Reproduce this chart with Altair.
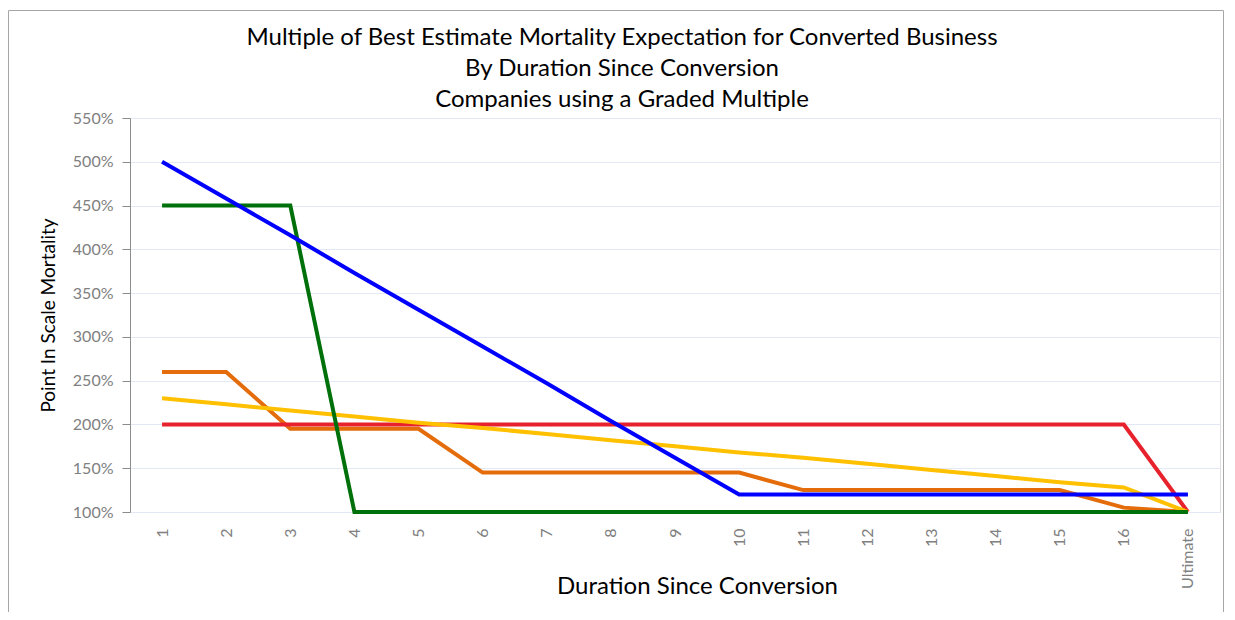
import altair as alt
import pandas as pd

durations = ["1", "2", "3", "4", "5", "6", "7", "8", "9", "10", "11", "12", "13", "14", "15", "16", "Ultimate"]

orange_vals = [260, 260, 195, 195, 195, 145, 145, 145, 145, 145, 125, 125, 125, 125, 125, 105, 100]
red_vals = [200, 200, 200, 200, 200, 200, 200, 200, 200, 200, 200, 200, 200, 200, 200, 200, 100]
yellow_vals = [230, 223, 216, 209, 202, 196, 189, 182, 175, 168, 162, 155, 148, 141, 134, 128, 100]
green_vals = [450, 450, 450, 100, 100, 100, 100, 100, 100, 100, 100, 100, 100, 100, 100, 100, 100]
blue_vals = [500, 458, 416, 373, 331, 289, 247, 204, 162, 120, 120, 120, 120, 120, 120, 120, 120]

series_names = ["Company A", "Company B", "Company C", "Company D", "Company E"]
series_vals = [orange_vals, red_vals, yellow_vals, green_vals, blue_vals]
series_colors = ["#E46C0A", "#E8222C", "#FFC000", "#00700A", "#0000FF"]

y_ticks = [100, 150, 200, 250, 300, 350, 400, 450, 500, 550]

title_lines = [
    "Multiple of Best Estimate Mortality Expectation for Converted Business",
    "By Duration Since Conversion",
    "Companies using a Graded Multiple",
]

FONT = "Lato"

x_enc = alt.X(
    "duration:N",
    sort=durations,
    scale=alt.Scale(type="point", padding=0.5),
    axis=alt.Axis(
        title="Duration Since Conversion",
        titleFont=FONT,
        titleFontSize=24,
        titleFontWeight="normal",
        titleColor="#000000",
        titleX=567,
        titleY=62,
        labelAngle=270,
        labelFont=FONT,
        labelFontSize=16,
        labelColor="#808080",
        labelPadding=16,
        domain=False,
        ticks=False,
        grid=False,
    ),
)

y_enc = alt.Y(
    "value:Q",
    scale=alt.Scale(domain=[100, 550], nice=False, zero=False),
    axis=alt.Axis(
        title="Point In Scale Mortality",
        titleFont=FONT,
        titleFontSize=19,
        titleFontWeight="normal",
        titleColor="#000000",
        titleX=-72,
        titleY=197,
        values=y_ticks,
        labelExpr="datum.value + '%'",
        labelFont=FONT,
        labelFontSize=16,
        labelColor="#808080",
        labelPadding=9,
        tickSize=8,
        tickColor="#8c8c8c",
        domainColor="#8c8c8c",
        gridColor="#e3e9f4",
        gridWidth=1,
    ),
)

layers = []

one = pd.DataFrame({"k": [0]})

frame = alt.Chart(one).mark_rect(
    fill="transparent", stroke="#a6a6a6", strokeWidth=1
).encode(
    x=alt.value(-121.5), x2=alt.value(1093.5), y=alt.value(-107.5), y2=alt.value(600)
)
layers.append(frame)

title_y = [-80, -49, -18]
for line, ty in zip(title_lines, title_y):
    layers.append(
        alt.Chart(pd.DataFrame({"t": [line]})).mark_text(
            font=FONT, fontSize=24, color="#000000", align="center", baseline="middle"
        ).encode(text="t:N", x=alt.value(492), y=alt.value(ty))
    )

for name, vals, col in zip(series_names, series_vals, series_colors):
    df = pd.DataFrame({"duration": durations, "value": vals, "series": name})
    layers.append(
        alt.Chart(df).mark_line(strokeWidth=4, color=col, strokeJoin="miter").encode(
            x=x_enc, y=y_enc
        )
    )

chart = alt.layer(*layers).properties(
    width=1090,
    height=394,
    padding={"left": 122, "top": 110, "right": 5, "bottom": 100},
    autosize=alt.AutoSizeParams(type="none"),
).configure_view(stroke=None).configure(background="white")

chart.save("out.html", embed_options={"renderer": "svg", "actions": False})
